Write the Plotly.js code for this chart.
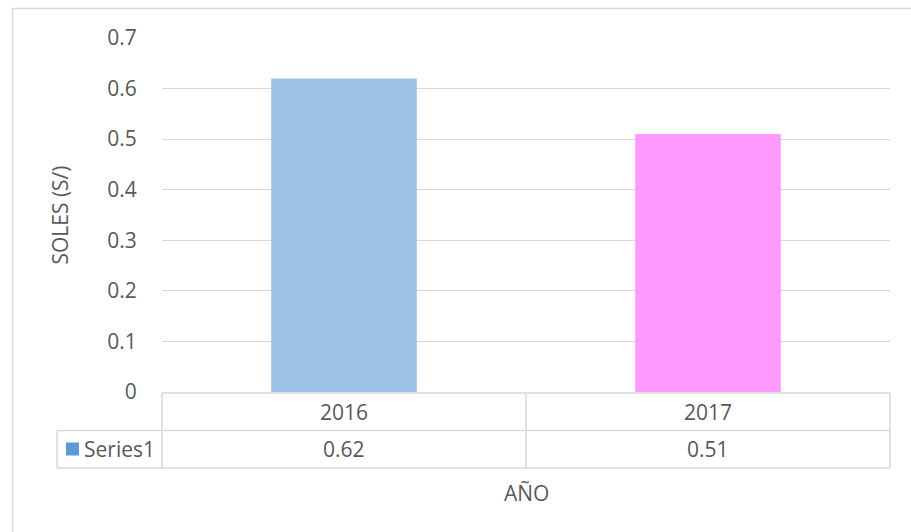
<!DOCTYPE html>
<html>
<head>
<meta charset="utf-8">
<script src="https://cdn.plot.ly/plotly-3.0.1.min.js"></script>
<style>html,body{margin:0;padding:0;background:#fff;}#chart{width:911px;height:532px;}</style>
</head>
<body>
<div id="chart"></div>
<script>
const categories = ['2016', '2017'];
const values = [0.62, 0.51];
const seriesName = 'Series1';
const yTicks = [0, 0.1, 0.2, 0.3, 0.4, 0.5, 0.6, 0.7];
const xTitle = 'AÑO';
const yTitle = 'SOLES (S/)';

const W = 911, H = 532;
const M = {l: 162, r: 21, t: 38, b: 140};
const PW = W - M.l - M.r, PH = H - M.t - M.b;
const px = x => (x - M.l) / PW;
const py = y => (H - M.b - y) / PH;

const FONT = 'Open Sans, Liberation Sans, sans-serif';
const FS = 21;
const TXT = '#595959';
const LINE = '#D9D9D9';

const shapes = [];
function hline(y, x0, x1) {
  shapes.push({type: 'line', xref: 'paper', yref: 'paper', x0: px(x0), x1: px(x1), y0: py(y), y1: py(y), line: {color: LINE, width: 1.5}});
}
function vline(x, y0, y1) {
  shapes.push({type: 'line', xref: 'paper', yref: 'paper', x0: px(x), x1: px(x), y0: py(y0), y1: py(y1), line: {color: LINE, width: 1.5}});
}
// outer chart border (partly cropped)
shapes.push({type: 'rect', xref: 'paper', yref: 'paper', x0: px(12.5), x1: px(930), y0: py(550), y1: py(8.5), line: {color: LINE, width: 1.5}, fillcolor: 'rgba(0,0,0,0)'});

// data table
const tTop = 393, tMid = 430.5, tBot = 468, tLeft = 57, pLeft = M.l, pRight = W - M.r;
hline(tTop, pLeft, pRight);
hline(tMid, tLeft, pRight);
hline(tBot, tLeft, pRight);
vline(tLeft, tMid, tBot);
const colW = PW / categories.length;
for (let i = 0; i <= categories.length; i++) vline(pLeft + i * colW, tTop, tBot);
// legend key
shapes.push({type: 'rect', xref: 'paper', yref: 'paper', x0: px(66), x1: px(79), y0: py(455.5), y1: py(442.5), line: {width: 0}, fillcolor: '#5B9BD5'});

const annotations = [];
categories.forEach((c, i) => {
  const cx = px(pLeft + (i + 0.5) * colW);
  annotations.push({xref: 'paper', yref: 'paper', x: cx, y: py((tTop + tMid) / 2), text: c, showarrow: false, xanchor: 'center', yanchor: 'middle', font: {family: FONT, size: FS, color: TXT}});
  annotations.push({xref: 'paper', yref: 'paper', x: cx, y: py((tMid + tBot) / 2), text: values[i].toFixed(2), showarrow: false, xanchor: 'center', yanchor: 'middle', font: {family: FONT, size: FS, color: TXT}});
});
annotations.push({xref: 'paper', yref: 'paper', x: px(82), y: py((tMid + tBot) / 2), text: seriesName, showarrow: false, xanchor: 'left', yanchor: 'middle', font: {family: FONT, size: FS, color: TXT}});
annotations.push({xref: 'paper', yref: 'paper', x: px((pLeft + pRight) / 2), y: py(493), text: xTitle, showarrow: false, xanchor: 'center', yanchor: 'middle', font: {family: FONT, size: FS, color: TXT}});

const data = [{
  type: 'bar',
  x: categories,
  y: values,
  name: seriesName,
  marker: {color: ['#9DC3E6', '#FF99FF'], line: {width: 0}},
  hoverinfo: 'x+y'
}];

const layout = {
  width: W, height: H,
  margin: M,
  paper_bgcolor: '#fff', plot_bgcolor: '#fff',
  showlegend: false,
  bargap: 0.6,
  font: {family: FONT, size: FS, color: TXT},
  xaxis: {showticklabels: false, showgrid: false, zeroline: false, showline: false, ticks: '', fixedrange: true},
  yaxis: {
    range: [0, 0.7], tickvals: yTicks, ticktext: yTicks.map(v => String(v)),
    showgrid: true, gridcolor: LINE, gridwidth: 1.2, zeroline: false, showline: false,
    ticks: 'outside', ticklen: 20, tickcolor: 'rgba(0,0,0,0)',
    tickfont: {family: FONT, size: FS, color: TXT},
    title: {text: yTitle, font: {family: FONT, size: FS, color: TXT}, standoff: 32},
    fixedrange: true
  },
  shapes: shapes,
  annotations: annotations
};

Plotly.newPlot('chart', data, layout, {displayModeBar: false, staticPlot: true});
</script>
</body>
</html>
